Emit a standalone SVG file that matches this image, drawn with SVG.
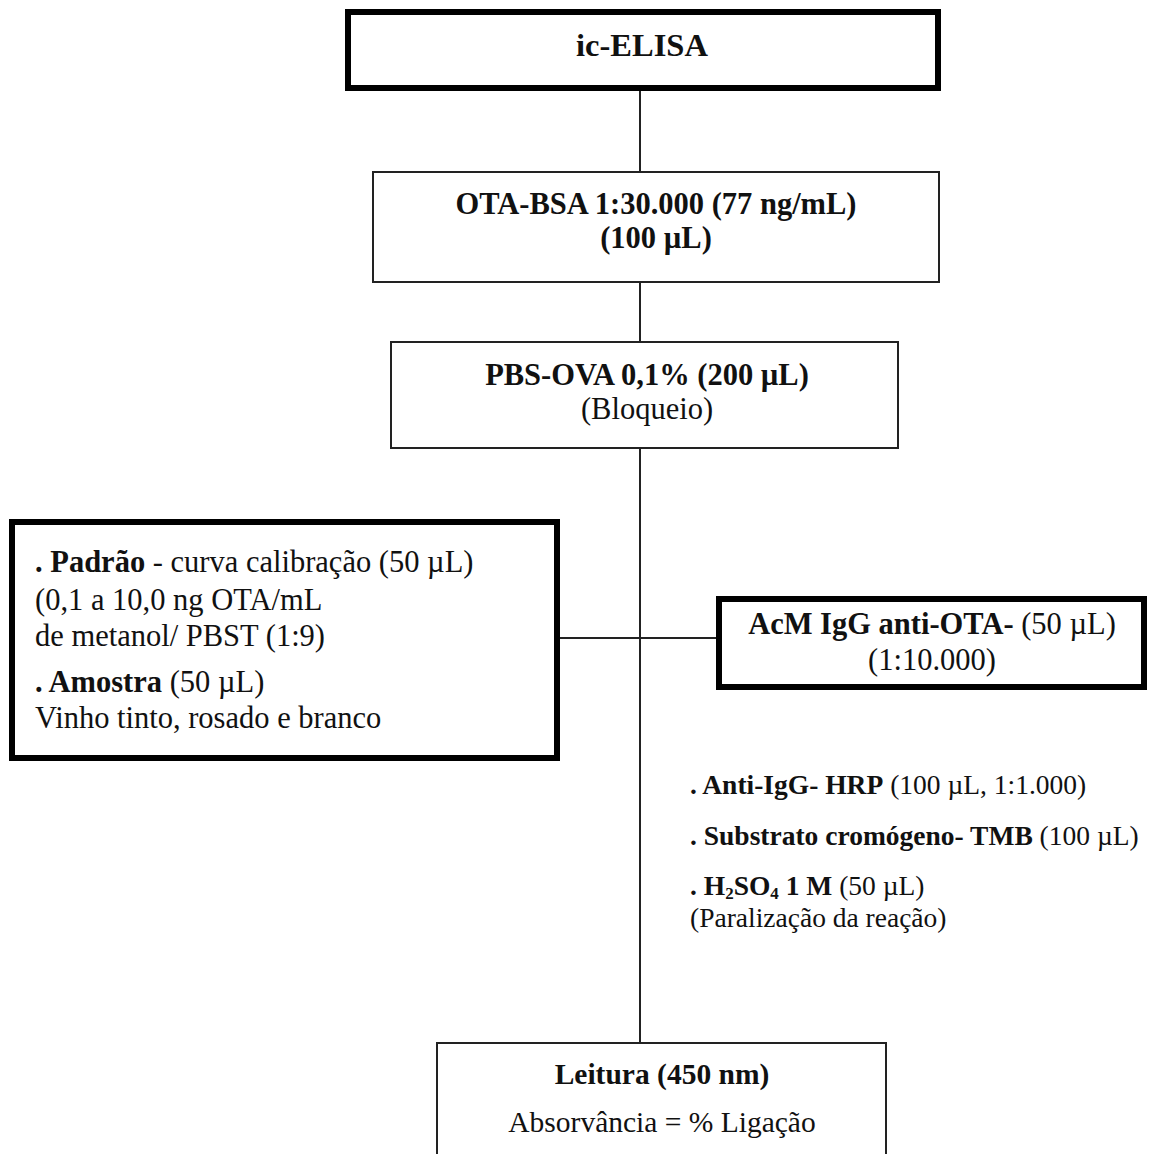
<svg xmlns="http://www.w3.org/2000/svg" width="1150" height="1154" viewBox="0 0 1150 1154">
<style>
text{font-family:"Liberation Serif","Times New Roman",serif;font-size:30.5px;fill:#111}
.b{font-weight:bold}
.c{text-anchor:middle}
.f{font-size:27.5px}
.t{font-size:32.5px}
.l{font-size:29.5px}
.thin{fill:#fff;stroke:#222;stroke-width:2}
.thick{fill:#fff;stroke:#000;stroke-width:6}
.ln{stroke:#222;stroke-width:2;fill:none}
</style>
<rect width="1150" height="1154" fill="#fff"/>
<g id="connectors">
<line class="ln" x1="640" y1="91" x2="640" y2="172"/>
<line class="ln" x1="640" y1="282" x2="640" y2="342"/>
<line class="ln" x1="640" y1="448" x2="640" y2="1043"/>
<line class="ln" x1="558" y1="638" x2="718" y2="638"/>
</g>
<g id="n-icelisa">
<rect class="thick" x="348" y="12" width="590" height="76"/>
<text class="b c t" x="642" y="56">ic-ELISA</text>
</g>
<g id="n-otabsa">
<rect class="thin" x="373" y="172" width="566" height="110"/>
<text class="b c" x="656" y="214">OTA-BSA 1:30.000 (77 ng/mL)</text>
<text class="b c" x="656" y="248">(100 µL)</text>
</g>
<g id="n-pbsova">
<rect class="thin" x="391" y="342" width="507" height="106"/>
<text class="b c" x="647" y="385">PBS-OVA 0,1% (200 µL)</text>
<text class="c" x="647" y="419">(Bloqueio)</text>
</g>
<g id="n-padrao">
<rect class="thick" x="12" y="522" width="545" height="236"/>
<text x="35" y="572"><tspan class="b">. Padrão</tspan> - curva calibração (50 µL)</text>
<text x="35" y="610">(0,1 a 10,0 ng OTA/mL</text>
<text x="35" y="646">de metanol/ PBST (1:9)</text>
<text x="35" y="692"><tspan class="b">. Amostra</tspan> (50 µL)</text>
<text x="35" y="728">Vinho tinto, rosado e branco</text>
</g>
<g id="n-acm">
<rect class="thick" x="719" y="599" width="425" height="88"/>
<text class="c" x="932" y="634"><tspan class="b">AcM IgG anti-OTA-</tspan> (50 µL)</text>
<text class="c" x="932" y="670">(1:10.000)</text>
</g>
<g id="n-reagents">
<text class="f" x="690" y="794"><tspan class="b">. Anti-IgG- HRP</tspan> (100 µL, 1:1.000)</text>
<text class="f" x="690" y="845"><tspan class="b">. Substrato cromógeno- TMB</tspan> (100 µL)</text>
<text class="f" x="690" y="895"><tspan class="b">. H<tspan font-size="17" dy="4">2</tspan><tspan dy="-4">SO</tspan><tspan font-size="17" dy="4">4</tspan><tspan dy="-4"> 1 M</tspan></tspan> (50 µL)</text>
<text class="f" x="690" y="927">(Paralização da reação)</text>
</g>
<g id="n-leitura">
<rect class="thin" x="437" y="1043" width="449" height="200"/>
<text class="b c l" x="662" y="1084">Leitura (450 nm)</text>
<text class="c l" x="662" y="1132">Absorvância = % Ligação</text>
</g>
</svg>
